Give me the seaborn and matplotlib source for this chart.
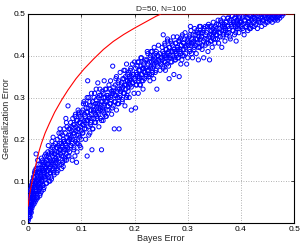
import matplotlib
matplotlib.use("Agg")
import matplotlib.pyplot as plt
import pandas as pd
import seaborn as sns

# ==============================
# DATOS
# ==============================

title = "D=50, N=100"
x_label = "Bayes Error"
y_label = "Generalization Error"
tick_vals = [0, 0.1, 0.2, 0.3, 0.4, 0.5]
tick_labels = ["0", "0.1", "0.2", "0.3", "0.4", "0.5"]

bayes_err = [
    0.001, 0.002, 0.002, 0.003, 0.003, 0.004, 0.004, 0.005, 0.005, 0.006, 0.006, 0.007, 0.007, 0.008, 0.008, 0.009, 0.009, 0.010, 0.001, 0.003, 0.005, 0.007, 0.009, 0.002, 0.004, 0.006, 0.008, 0.010, 0.004, 0.006,
    0.011, 0.012, 0.012, 0.013, 0.014, 0.014, 0.015, 0.015, 0.016, 0.017, 0.017, 0.018, 0.019, 0.019, 0.020, 0.021, 0.021, 0.022, 0.023, 0.023, 0.024, 0.025, 0.011, 0.013, 0.016, 0.018, 0.020, 0.022, 0.024, 0.015,
    0.026, 0.027, 0.028, 0.029, 0.030, 0.031, 0.032, 0.033, 0.034, 0.035, 0.036, 0.037, 0.038, 0.039, 0.040, 0.041, 0.042, 0.043, 0.044, 0.045, 0.046, 0.047, 0.048, 0.049, 0.050, 0.027, 0.030, 0.033, 0.036, 0.039, 0.042, 0.045, 0.048, 0.031, 0.044,
    0.051, 0.052, 0.053, 0.054, 0.055, 0.056, 0.057, 0.058, 0.059, 0.060, 0.061, 0.062, 0.063, 0.064, 0.065, 0.066, 0.067, 0.068, 0.069, 0.070, 0.071, 0.072, 0.073, 0.074, 0.075, 0.054, 0.058, 0.063, 0.068, 0.072,
    0.076, 0.077, 0.078, 0.079, 0.080, 0.081, 0.082, 0.083, 0.084, 0.085, 0.086, 0.087, 0.088, 0.089, 0.090, 0.091, 0.092, 0.093, 0.094, 0.095, 0.096, 0.097, 0.098, 0.099, 0.100, 0.075, 0.088, 0.095,
    0.101, 0.102, 0.103, 0.104, 0.105, 0.106, 0.107, 0.108, 0.109, 0.110, 0.111, 0.112, 0.113, 0.114, 0.115, 0.116, 0.117, 0.118, 0.119, 0.120, 0.121, 0.122, 0.123, 0.124, 0.125, 0.112,
    0.126, 0.127, 0.128, 0.129, 0.130, 0.131, 0.132, 0.133, 0.134, 0.135, 0.136, 0.137, 0.138, 0.139, 0.140, 0.141, 0.142, 0.143, 0.144, 0.145, 0.146, 0.147, 0.148, 0.150,
    0.151, 0.152, 0.153, 0.154, 0.155, 0.156, 0.157, 0.158, 0.159, 0.160, 0.161, 0.162, 0.163, 0.164, 0.165, 0.166, 0.167, 0.168, 0.169, 0.170, 0.171, 0.172, 0.173, 0.175,
    0.176, 0.177, 0.178, 0.179, 0.180, 0.181, 0.182, 0.183, 0.184, 0.185, 0.186, 0.187, 0.188, 0.189, 0.190, 0.191, 0.192, 0.193, 0.194, 0.196, 0.198, 0.200,
    0.201, 0.202, 0.203, 0.204, 0.205, 0.206, 0.207, 0.208, 0.209, 0.210, 0.211, 0.212, 0.213, 0.214, 0.215, 0.216, 0.217, 0.218, 0.219, 0.220, 0.222, 0.224,
    0.226, 0.227, 0.228, 0.229, 0.230, 0.231, 0.232, 0.233, 0.234, 0.235, 0.236, 0.237, 0.238, 0.239, 0.240, 0.241, 0.242, 0.243, 0.244, 0.246, 0.248, 0.250,
    0.251, 0.252, 0.253, 0.254, 0.255, 0.256, 0.257, 0.258, 0.259, 0.260, 0.261, 0.262, 0.263, 0.264, 0.265, 0.266, 0.267, 0.268, 0.270, 0.272, 0.274, 0.275,
    0.276, 0.277, 0.278, 0.279, 0.280, 0.281, 0.282, 0.283, 0.284, 0.285, 0.286, 0.287, 0.288, 0.289, 0.290, 0.291, 0.292, 0.293, 0.294, 0.296, 0.298, 0.300,
    0.301, 0.303, 0.304, 0.306, 0.307, 0.309, 0.310, 0.312, 0.313, 0.315, 0.316, 0.318, 0.319, 0.320, 0.321, 0.322, 0.323, 0.324, 0.325, 0.305,
    0.326, 0.327, 0.329, 0.330, 0.332, 0.333, 0.335, 0.336, 0.338, 0.339, 0.340, 0.341, 0.342, 0.343, 0.344, 0.345, 0.346, 0.347, 0.348, 0.350,
    0.351, 0.352, 0.354, 0.355, 0.357, 0.358, 0.360, 0.361, 0.363, 0.364, 0.365, 0.366, 0.367, 0.368, 0.369, 0.370, 0.371, 0.372, 0.374, 0.375,
    0.376, 0.377, 0.379, 0.380, 0.382, 0.383, 0.385, 0.386, 0.388, 0.389, 0.390, 0.391, 0.392, 0.393, 0.394, 0.395, 0.396, 0.397, 0.398, 0.400,
    0.401, 0.403, 0.404, 0.406, 0.407, 0.409, 0.410, 0.412, 0.413, 0.415, 0.416, 0.418, 0.419, 0.420, 0.421, 0.422, 0.424, 0.425,
    0.426, 0.428, 0.429, 0.431, 0.433, 0.434, 0.436, 0.437, 0.439, 0.440, 0.442, 0.443, 0.445, 0.446, 0.448, 0.450,
    0.451, 0.453, 0.455, 0.457, 0.459, 0.461, 0.463, 0.465, 0.467, 0.469, 0.471, 0.474, 0.477, 0.480,
    # segunda tanda
    0.000, 0.001, 0.001, 0.002, 0.003, 0.003, 0.004, 0.005, 0.005, 0.006, 0.007, 0.007, 0.008, 0.009, 0.010, 0.010, 0.011, 0.011, 0.012, 0.012, 0.002, 0.004, 0.006, 0.008, 0.010,
    0.013, 0.013, 0.014, 0.015, 0.016, 0.016, 0.017, 0.018, 0.018, 0.019, 0.020, 0.020, 0.021, 0.022, 0.022, 0.023, 0.024, 0.024, 0.025, 0.026, 0.026, 0.027, 0.028, 0.028, 0.029, 0.030, 0.014, 0.019, 0.025, 0.029,
    0.031, 0.032, 0.033, 0.034, 0.035, 0.036, 0.037, 0.038, 0.039, 0.040, 0.041, 0.042, 0.043, 0.044, 0.045, 0.046, 0.047, 0.048, 0.049, 0.050, 0.051, 0.052, 0.053, 0.054, 0.055, 0.034, 0.038, 0.043, 0.047, 0.052,
    0.056, 0.057, 0.058, 0.059, 0.060, 0.061, 0.062, 0.063, 0.064, 0.065, 0.066, 0.067, 0.068, 0.069, 0.070, 0.071, 0.072, 0.073, 0.074, 0.075, 0.076, 0.077, 0.078, 0.079, 0.080, 0.060, 0.066, 0.071,
    0.081, 0.082, 0.083, 0.084, 0.085, 0.086, 0.087, 0.088, 0.089, 0.090, 0.091, 0.092, 0.093, 0.094, 0.095, 0.096, 0.097, 0.098, 0.099, 0.100, 0.101, 0.102, 0.103, 0.104, 0.105, 0.092,
    0.106, 0.107, 0.108, 0.109, 0.110, 0.111, 0.112, 0.113, 0.114, 0.115, 0.116, 0.117, 0.118, 0.119, 0.120, 0.121, 0.122, 0.123, 0.124, 0.125, 0.126, 0.127, 0.128, 0.129, 0.130,
    0.131, 0.132, 0.133, 0.134, 0.135, 0.136, 0.137, 0.138, 0.139, 0.140, 0.141, 0.142, 0.143, 0.144, 0.145, 0.146, 0.147, 0.148, 0.149, 0.150, 0.152, 0.154, 0.155, 0.157, 0.158, 0.160,
    0.161, 0.162, 0.164, 0.165, 0.166, 0.168, 0.169, 0.170, 0.172, 0.173, 0.174, 0.176, 0.177, 0.178, 0.180, 0.181, 0.182, 0.184, 0.185, 0.186, 0.187, 0.188, 0.189, 0.190,
    0.191, 0.192, 0.194, 0.195, 0.196, 0.197, 0.198, 0.199, 0.200, 0.202, 0.203, 0.204, 0.206, 0.207, 0.208, 0.209, 0.210, 0.212, 0.213, 0.214, 0.216, 0.217, 0.218, 0.220,
    0.221, 0.222, 0.223, 0.224, 0.225, 0.226, 0.228, 0.229, 0.230, 0.231, 0.232, 0.234, 0.235, 0.236, 0.237, 0.238, 0.240, 0.241, 0.242, 0.244, 0.245, 0.246, 0.248, 0.249,
    0.252, 0.253, 0.254, 0.256, 0.257, 0.258, 0.259, 0.260, 0.262, 0.263, 0.264, 0.265, 0.266, 0.268, 0.269, 0.270, 0.271, 0.272, 0.273, 0.275, 0.276, 0.277, 0.278, 0.280,
    0.281, 0.282, 0.284, 0.285, 0.287, 0.288, 0.289, 0.290, 0.292, 0.293, 0.295, 0.296, 0.297, 0.299, 0.300, 0.302, 0.303, 0.304, 0.306, 0.307, 0.308, 0.310,
    0.311, 0.312, 0.314, 0.315, 0.317, 0.318, 0.320, 0.321, 0.323, 0.324, 0.326, 0.327, 0.328, 0.330, 0.331, 0.333, 0.334, 0.336, 0.337, 0.339,
    0.341, 0.342, 0.344, 0.345, 0.347, 0.348, 0.349, 0.351, 0.352, 0.353, 0.355, 0.356, 0.358, 0.359, 0.361, 0.362, 0.364, 0.366, 0.367, 0.369,
    0.371, 0.372, 0.373, 0.375, 0.376, 0.378, 0.379, 0.381, 0.382, 0.384, 0.385, 0.387, 0.388, 0.390, 0.391, 0.393, 0.394, 0.396, 0.397, 0.399,
    0.402, 0.403, 0.405, 0.407, 0.408, 0.410, 0.412, 0.414, 0.416, 0.417, 0.419, 0.421, 0.423, 0.425, 0.427, 0.430, 0.433, 0.437,
    0.441, 0.444, 0.447, 0.449, 0.452, 0.454, 0.456, 0.458, 0.460, 0.462, 0.464, 0.466, 0.468, 0.470, 0.473, 0.476,
]

gen_err = [
    0.010, 0.025, 0.040, 0.020, 0.055, 0.035, 0.065, 0.030, 0.075, 0.050, 0.085, 0.045, 0.070, 0.060, 0.095, 0.055, 0.080, 0.070, 0.030, 0.045, 0.050, 0.090, 0.100, 0.015, 0.050, 0.065, 0.040, 0.110, 0.080, 0.025,
    0.060, 0.085, 0.110, 0.070, 0.095, 0.120, 0.055, 0.100, 0.080, 0.115, 0.065, 0.090, 0.105, 0.130, 0.075, 0.095, 0.120, 0.085, 0.110, 0.070, 0.140, 0.100, 0.045, 0.125, 0.060, 0.150, 0.095, 0.130, 0.085, 0.165,
    0.100, 0.125, 0.090, 0.140, 0.115, 0.160, 0.105, 0.130, 0.150, 0.095, 0.125, 0.170, 0.110, 0.140, 0.155, 0.120, 0.135, 0.175, 0.105, 0.145, 0.160, 0.130, 0.185, 0.115, 0.150, 0.150, 0.085, 0.165, 0.140, 0.100, 0.120, 0.195, 0.140, 0.135, 0.165,
    0.165, 0.135, 0.180, 0.150, 0.200, 0.125, 0.170, 0.155, 0.190, 0.140, 0.175, 0.215, 0.160, 0.185, 0.145, 0.200, 0.170, 0.225, 0.155, 0.190, 0.175, 0.150, 0.205, 0.180, 0.160, 0.120, 0.215, 0.130, 0.195, 0.240,
    0.195, 0.225, 0.170, 0.210, 0.240, 0.185, 0.220, 0.150, 0.200, 0.235, 0.180, 0.215, 0.255, 0.195, 0.230, 0.145, 0.210, 0.245, 0.190, 0.225, 0.265, 0.205, 0.240, 0.180, 0.220, 0.280, 0.160, 0.260,
    0.250, 0.215, 0.270, 0.235, 0.290, 0.225, 0.255, 0.200, 0.275, 0.245, 0.160, 0.265, 0.230, 0.300, 0.250, 0.215, 0.280, 0.240, 0.260, 0.175, 0.290, 0.225, 0.270, 0.250, 0.310, 0.340,
    0.270, 0.240, 0.295, 0.255, 0.285, 0.335, 0.265, 0.230, 0.305, 0.275, 0.250, 0.290, 0.175, 0.315, 0.270, 0.245, 0.300, 0.280, 0.260, 0.320, 0.290, 0.255, 0.305, 0.280,
    0.300, 0.270, 0.320, 0.285, 0.340, 0.295, 0.260, 0.310, 0.375, 0.280, 0.325, 0.225, 0.305, 0.290, 0.345, 0.270, 0.315, 0.300, 0.335, 0.285, 0.225, 0.320, 0.305, 0.330,
    0.320, 0.295, 0.345, 0.310, 0.365, 0.330, 0.280, 0.350, 0.320, 0.380, 0.305, 0.340, 0.325, 0.360, 0.300, 0.345, 0.330, 0.370, 0.270, 0.335, 0.355, 0.385,
    0.340, 0.275, 0.360, 0.330, 0.375, 0.350, 0.310, 0.385, 0.345, 0.365, 0.330, 0.395, 0.355, 0.340, 0.370, 0.320, 0.380, 0.360, 0.345, 0.390, 0.355, 0.410,
    0.365, 0.350, 0.385, 0.340, 0.400, 0.375, 0.355, 0.410, 0.370, 0.390, 0.345, 0.380, 0.395, 0.360, 0.405, 0.385, 0.320, 0.375, 0.400, 0.390, 0.365, 0.380,
    0.395, 0.420, 0.375, 0.450, 0.405, 0.385, 0.425, 0.365, 0.400, 0.415, 0.380, 0.435, 0.395, 0.410, 0.345, 0.420, 0.400, 0.385, 0.430, 0.410, 0.355, 0.395,
    0.410, 0.390, 0.430, 0.400, 0.445, 0.420, 0.395, 0.435, 0.350, 0.415, 0.440, 0.405, 0.425, 0.390, 0.450, 0.415, 0.430, 0.400, 0.440, 0.420, 0.380, 0.435,
    0.425, 0.445, 0.410, 0.460, 0.430, 0.395, 0.450, 0.420, 0.465, 0.440, 0.405, 0.455, 0.430, 0.390, 0.445, 0.470, 0.420, 0.440, 0.455, 0.470,
    0.445, 0.425, 0.460, 0.395, 0.440, 0.470, 0.430, 0.455, 0.410, 0.475, 0.445, 0.390, 0.460, 0.435, 0.470, 0.450, 0.420, 0.465, 0.440, 0.455,
    0.460, 0.440, 0.475, 0.450, 0.485, 0.430, 0.465, 0.455, 0.480, 0.420, 0.470, 0.445, 0.490, 0.460, 0.475, 0.435, 0.465, 0.480, 0.455, 0.490,
    0.470, 0.455, 0.485, 0.440, 0.475, 0.495, 0.460, 0.480, 0.450, 0.490, 0.470, 0.435, 0.485, 0.465, 0.500, 0.475, 0.455, 0.490, 0.480, 0.470,
    0.480, 0.465, 0.495, 0.450, 0.485, 0.470, 0.500, 0.475, 0.460, 0.490, 0.480, 0.465, 0.495, 0.485, 0.470, 0.500, 0.480, 0.490,
    0.490, 0.475, 0.500, 0.465, 0.485, 0.495, 0.480, 0.500, 0.470, 0.490, 0.485, 0.500, 0.475, 0.495, 0.490, 0.480,
    0.495, 0.485, 0.500, 0.490, 0.480, 0.500, 0.495, 0.490, 0.500, 0.485, 0.495, 0.500, 0.495, 0.500,
    # segunda tanda
    0.005, 0.020, 0.045, 0.060, 0.030, 0.070, 0.015, 0.060, 0.040, 0.090, 0.035, 0.060, 0.100, 0.075, 0.050, 0.090, 0.070, 0.105, 0.055, 0.120, 0.035, 0.025, 0.075, 0.085, 0.060,
    0.050, 0.095, 0.075, 0.130, 0.100, 0.070, 0.090, 0.120, 0.060, 0.085, 0.110, 0.140, 0.080, 0.105, 0.065, 0.125, 0.095, 0.115, 0.075, 0.130, 0.105, 0.090, 0.120, 0.145, 0.080, 0.110, 0.085, 0.100, 0.155, 0.125,
    0.120, 0.145, 0.110, 0.135, 0.160, 0.115, 0.150, 0.125, 0.165, 0.130, 0.100, 0.150, 0.140, 0.170, 0.125, 0.180, 0.150, 0.120, 0.165, 0.135, 0.190, 0.145, 0.170, 0.130, 0.180, 0.095, 0.185, 0.110, 0.205, 0.155,
    0.160, 0.185, 0.145, 0.175, 0.205, 0.165, 0.190, 0.140, 0.180, 0.210, 0.160, 0.195, 0.175, 0.150, 0.215, 0.185, 0.165, 0.230, 0.195, 0.175, 0.210, 0.160, 0.200, 0.225, 0.185, 0.225, 0.135, 0.250,
    0.205, 0.230, 0.190, 0.250, 0.215, 0.175, 0.235, 0.200, 0.260, 0.220, 0.245, 0.190, 0.225, 0.270, 0.210, 0.240, 0.185, 0.255, 0.230, 0.200, 0.265, 0.235, 0.215, 0.285, 0.245, 0.170,
    0.260, 0.240, 0.285, 0.225, 0.265, 0.300, 0.245, 0.275, 0.210, 0.255, 0.290, 0.235, 0.270, 0.310, 0.250, 0.225, 0.280, 0.265, 0.300, 0.240, 0.285, 0.260, 0.320, 0.275, 0.250,
    0.280, 0.300, 0.260, 0.285, 0.320, 0.270, 0.305, 0.245, 0.290, 0.275, 0.310, 0.265, 0.340, 0.285, 0.300, 0.255, 0.320, 0.290, 0.270, 0.305, 0.330, 0.285, 0.300, 0.315, 0.275, 0.310,
    0.315, 0.290, 0.330, 0.305, 0.350, 0.285, 0.320, 0.340, 0.300, 0.360, 0.315, 0.335, 0.290, 0.325, 0.345, 0.310, 0.365, 0.330, 0.300, 0.340, 0.355, 0.315, 0.335, 0.350,
    0.340, 0.365, 0.325, 0.350, 0.380, 0.335, 0.355, 0.310, 0.345, 0.370, 0.330, 0.355, 0.385, 0.340, 0.365, 0.350, 0.330, 0.375, 0.395, 0.355, 0.340, 0.370, 0.385, 0.360,
    0.370, 0.350, 0.390, 0.365, 0.405, 0.380, 0.355, 0.395, 0.370, 0.410, 0.385, 0.360, 0.400, 0.375, 0.420, 0.390, 0.365, 0.410, 0.380, 0.400, 0.425, 0.385, 0.405, 0.395,
    0.390, 0.410, 0.370, 0.400, 0.430, 0.385, 0.415, 0.395, 0.440, 0.405, 0.375, 0.420, 0.395, 0.435, 0.410, 0.385, 0.425, 0.400, 0.445, 0.415, 0.390, 0.430, 0.405, 0.420,
    0.415, 0.395, 0.435, 0.410, 0.380, 0.425, 0.445, 0.400, 0.430, 0.415, 0.455, 0.405, 0.425, 0.440, 0.395, 0.430, 0.415, 0.450, 0.425, 0.405, 0.440, 0.430,
    0.435, 0.415, 0.450, 0.425, 0.460, 0.440, 0.420, 0.455, 0.430, 0.470, 0.445, 0.415, 0.455, 0.435, 0.465, 0.425, 0.450, 0.440, 0.470, 0.430,
    0.450, 0.470, 0.435, 0.460, 0.445, 0.480, 0.455, 0.430, 0.470, 0.450, 0.465, 0.440, 0.475, 0.455, 0.445, 0.485, 0.460, 0.475, 0.450, 0.470,
    0.460, 0.480, 0.450, 0.470, 0.490, 0.465, 0.445, 0.480, 0.470, 0.495, 0.460, 0.475, 0.490, 0.455, 0.480, 0.470, 0.485, 0.465, 0.495, 0.480,
    0.475, 0.490, 0.460, 0.485, 0.500, 0.470, 0.490, 0.480, 0.465, 0.495, 0.475, 0.490, 0.500, 0.470, 0.485, 0.495, 0.480, 0.490,
    0.485, 0.495, 0.480, 0.500, 0.490, 0.495, 0.485, 0.500, 0.490, 0.495, 0.485, 0.500, 0.490, 0.495, 0.490, 0.500,
]

# curva roja (cota superior)
bound_x = [0.0, 0.002, 0.005, 0.008, 0.0113, 0.015, 0.0207, 0.025, 0.032, 0.040, 0.050, 0.063, 0.075, 0.090, 0.105,
           0.123, 0.1416, 0.160, 0.180, 0.200, 0.220, 0.240, 0.250, 0.500]
bound_y = [0.040, 0.062, 0.083, 0.102, 0.120, 0.142, 0.172, 0.190, 0.215, 0.238, 0.265, 0.294, 0.318, 0.345, 0.368,
           0.392, 0.415, 0.434, 0.451, 0.466, 0.480, 0.494, 0.500, 0.500]

# ==============================
# FIGURA
# ==============================

sns.set_style("white")
plt.rcParams["font.family"] = ["Liberation Sans", "DejaVu Sans"]

df = pd.DataFrame({"bayes": bayes_err, "gen": gen_err})
df_bound = pd.DataFrame({"bayes": bound_x, "gen": bound_y})

fig = plt.figure(figsize=(3.02, 2.48), dpi=100)
ax = fig.add_axes([0.093, 0.101, 0.881, 0.843])

sns.scatterplot(data=df, x="bayes", y="gen", ax=ax, marker="o", s=9,
                facecolor="none", edgecolor="#0000ff", linewidth=0.7, zorder=3)
sns.lineplot(data=df_bound, x="bayes", y="gen", ax=ax, color="#ff0000",
             linewidth=0.8, sort=False, estimator=None, zorder=4)

ax.set_xlim(0, 0.5)
ax.set_ylim(0, 0.5)
ax.set_xticks(tick_vals)
ax.set_xticklabels(tick_labels)
ax.set_yticks(tick_vals)
ax.set_yticklabels(tick_labels)
ax.grid(True, linestyle=(0, (1, 2)), color="#999999", linewidth=0.6)
ax.tick_params(direction="in", length=2, width=0.5, labelsize=6, pad=2,
               top=True, right=True, colors="black")
for sp in ax.spines.values():
    sp.set_visible(True)
    sp.set_color("black")
    sp.set_linewidth(0.8)

ax.set_title(title, fontsize=6, pad=3)
ax.set_xlabel(x_label, fontsize=6.5, labelpad=1)
ax.set_ylabel(y_label, fontsize=6.5, labelpad=2)

fig.savefig("out.png", dpi=100)
